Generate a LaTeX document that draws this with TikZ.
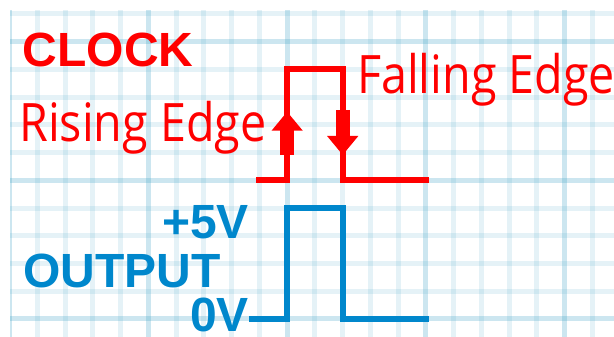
\documentclass[tikz,border=0pt]{standalone}
\usepackage{fontspec}
\setsansfont{Liberation Sans}
\newfontfamily\edgefont[FakeStretch=0.88]{Open Sans}
\usetikzlibrary{arrows.meta}
\definecolor{clockred}{RGB}{255,0,0}
\definecolor{outblue}{RGB}{0,135,204}
\definecolor{gridblue}{RGB}{40,150,190}
\tikzset{
  minorline/.style={gridblue,opacity=0.12,line width=5pt},
  majorline/.style={gridblue,opacity=0.13,line width=5pt},
  signal/.style={line width=6pt,line cap=rect},
  edgearrow/.style={clockred,line width=14pt,-{Triangle[length=19pt,width=30pt]}},
  bigtag/.style={font=\sffamily\bfseries\fontsize{48}{48}\selectfont,inner sep=0pt},
  edgetag/.style={font=\edgefont\fontsize{53}{53}\selectfont,text=clockred,inner sep=0pt},
}
\begin{document}
\begin{tikzpicture}[x=1pt,y=-1pt]
\useasboundingbox (0,0) rectangle (614,337);
% graph paper
\begin{scope}
\clip (10,10) rectangle (614,337);
\foreach \i in {0,...,21}
  \draw [minorline](9.55+27.76*\i,10) -- (9.55+27.76*\i,337);
\foreach \j in {0,...,11}
  \draw [minorline](10,13.95+27.73*\j) -- (614,13.95+27.73*\j);
\foreach \i in {0,5,...,20}
  \draw [majorline](9.55+27.76*\i,10) -- (9.55+27.76*\i,337);
\foreach \j in {1,6,11}
  \draw [majorline](10,13.95+27.73*\j) -- (614,13.95+27.73*\j);
\end{scope}
% labels
\node [bigtag,text=clockred,anchor=base west] (clock) at (22.5,66.5) {CLOCK};
\node [edgetag,anchor=base west] (rising) at (19,141.7) {Rising Edge};
\node [edgetag,anchor=base west] (falling) at (357,93.3) {Falling Edge};
\node [bigtag,text=outblue,anchor=base east] (high) at (249,238.5) {+5V};
\node [bigtag,text=outblue,anchor=base west] (output) at (23,287.3) {OUTPUT};
\node [bigtag,text=outblue,anchor=base east] (low) at (249,331.5) {0V};
% waveforms
\draw [signal,clockred](259.4,180.3) -- (287.15,180.3) -- (287.15,69.4) -- (342.7,69.4) -- (342.7,180.3) -- (425.95,180.3);
\draw [signal,outblue](252.3,319) -- (287.15,319) -- (287.15,208.1) -- (342.7,208.1) -- (342.7,319) -- (425.95,319);
\draw [edgearrow](287.15,155) -- (287.15,111.7);
\draw [edgearrow](342.7,110) -- (342.7,155);
\end{tikzpicture}
\end{document}
